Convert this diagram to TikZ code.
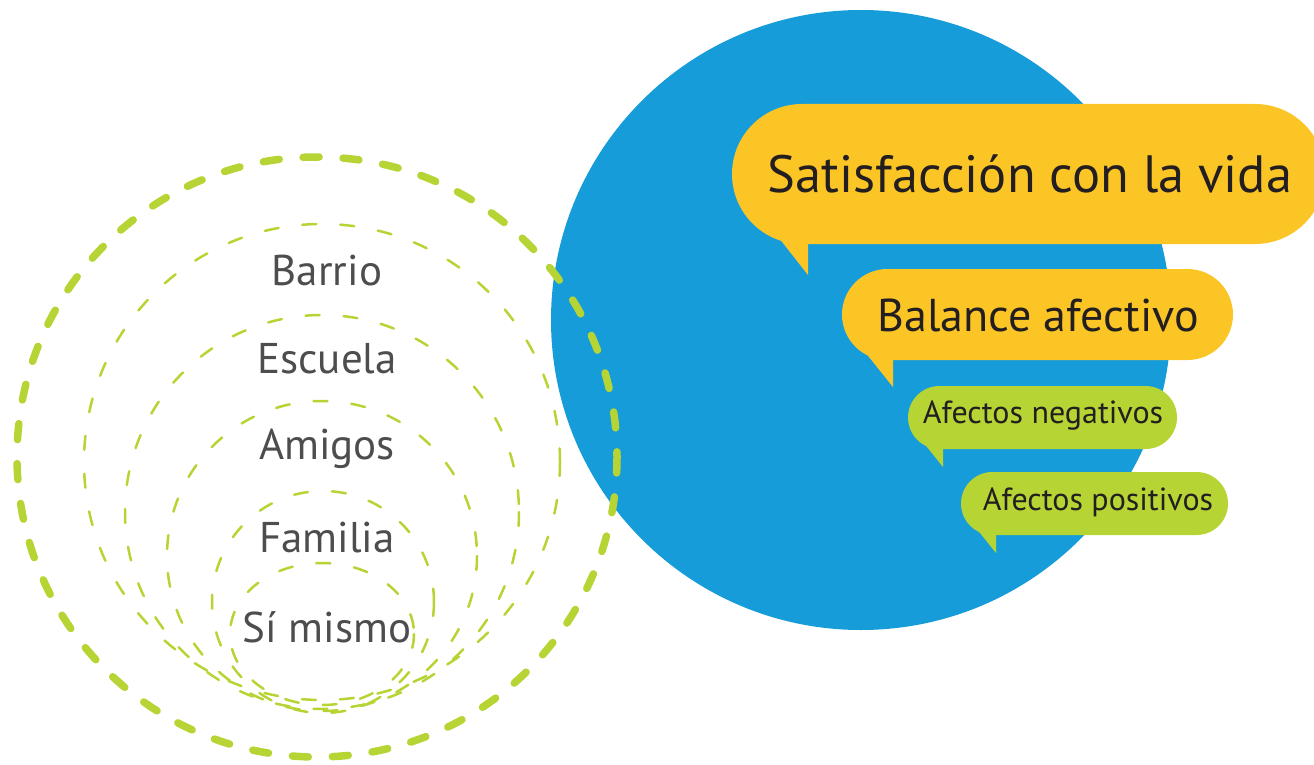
\documentclass[tikz,border=0pt]{standalone}
\usepackage{fontspec}
\setmainfont{PT Sans}
\definecolor{cblue}{HTML}{169CD8}
\definecolor{cyellow}{HTML}{FCC526}
\definecolor{cgreen}{HTML}{B6D434}
\definecolor{cgray}{HTML}{4D4D4F}
\definecolor{cdark}{HTML}{231F20}
\begin{document}
\begin{tikzpicture}[x=1pt,y=-1pt,
  thickring/.style={draw=cgreen,line width=7.5pt,line cap=round,dash pattern=on 16pt off 24pt},
  thinring/.style={draw=cgreen,line width=2.5pt,line cap=round,dash pattern=on 14pt off 24pt},
  ringlabel/.style={text=cgray,inner sep=0pt,anchor=center,font=\fontsize{43}{48}\selectfont},
  bubtext/.style={text=cdark,inner sep=0pt,anchor=center}]
\useasboundingbox (0,0) rectangle (1314,765);
\clip (0,0) rectangle (1314,765);
% blue disc
\fill[cblue] (861,320) circle[radius=310];
% thin rings
\draw[thinring] (322,462) circle[radius=238];
\draw[thinring] (322,512) circle[radius=197];
\draw[thinring] (322,556) circle[radius=155];
\draw[thinring] (323,602) circle[radius=111];
\draw[thinring] (322,634) ellipse[x radius=92,y radius=71];
% thick ring
\draw[thickring] (317,457) circle[radius=300];
% ring labels
\node[ringlabel] (barrio) at (327,271) {Barrio};
\node[ringlabel] (escuela) at (327,359) {Escuela};
\node[ringlabel] (amigos) at (327,449) {Amigos};
\node[ringlabel] (familia) at (327,538) {Familia};
\node[ringlabel] (simismo) at (327,627) {Sí mismo};
% bubbles
\fill[cyellow] (761,215) -- (808,275) -- (808,215) -- cycle;
\fill[cyellow,rounded corners=70pt] (732,104) rectangle (1325,244);
\fill[cyellow] (853,337) -- (893,387) -- (893,337) -- cycle;
\fill[cyellow,rounded corners=45.5pt] (842,269) rectangle (1233,360);
\fill[cgreen] (915,432) -- (943,467) -- (943,432) -- cycle;
\fill[cgreen,rounded corners=31.5pt] (908,386) rectangle (1177,449);
\fill[cgreen] (968,518) -- (996,553) -- (996,518) -- cycle;
\fill[cgreen,rounded corners=31.5pt] (961,472) rectangle (1228,535);
\node[bubtext,font=\fontsize{52.5}{58}\selectfont] (satis) at (1030,174) {Satisfacción con la vida};
\node[bubtext,font=\fontsize{46}{52}\selectfont] (balance) at (1038,315) {Balance afectivo};
\node[bubtext,font=\fontsize{32}{36}\selectfont] (neg) at (1043,416) {Afectos negativos};
\node[bubtext,font=\fontsize{32}{36}\selectfont] (pos) at (1098,502) {Afectos positivos};
\end{tikzpicture}
\end{document}
